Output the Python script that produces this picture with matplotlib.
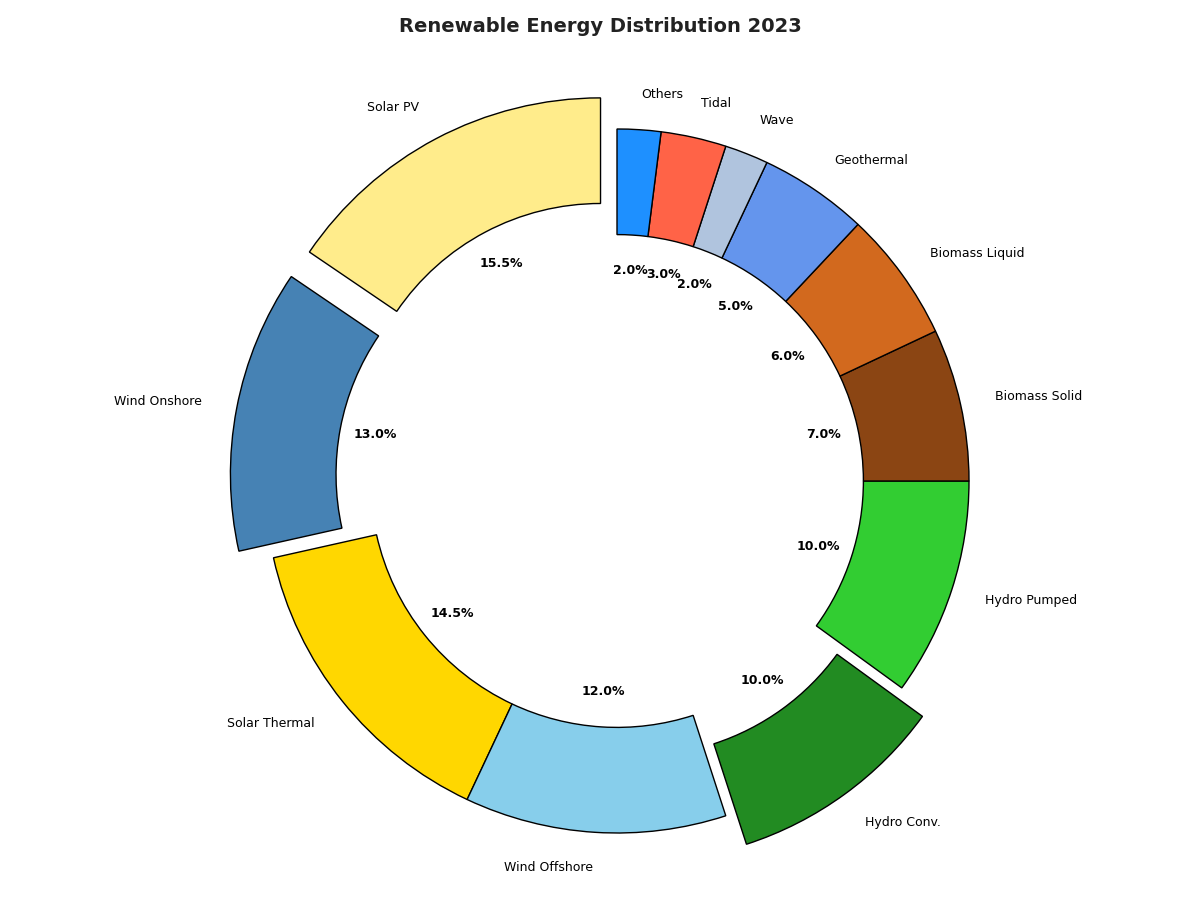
import matplotlib.pyplot as plt

labels = ['Solar PV', 'Wind Onshore', 'Solar Thermal', 'Wind Offshore', 'Hydro Conv.',
          'Hydro Pumped', 'Biomass Solid', 'Biomass Liquid', 'Geothermal', 'Wave',
          'Tidal', 'Others']
shares = [15.5, 13.0, 14.5, 12.0, 10.0, 10.0, 7.0, 6.0, 5.0, 2.0, 3.0, 2.0]
colors = ['#FFEC8B', '#4682B4', '#FFD700', '#87CEEB', '#228B22', '#32CD32',
          '#8B4513', '#D2691E', '#6495ED', '#B0C4DE', '#FF6347', '#1E90FF']
explode = [0.1, 0.1, 0, 0, 0.1, 0, 0, 0, 0, 0, 0, 0]

fig = plt.figure(figsize=(12, 9), dpi=100)
ax = fig.add_axes([0, 0, 1, 1])
wedges, texts, autotexts = ax.pie(
    shares, labels=labels, colors=colors, explode=explode,
    startangle=90, autopct='%1.1f%%', pctdistance=0.6, labeldistance=1.1,
    wedgeprops=dict(width=0.3, edgecolor='black', linewidth=1),
    textprops=dict(fontsize=9))
for t in autotexts:
    t.set_fontweight('bold')
    t.set_color('black')

# one data unit = 352 px, centre at (617, 481) from the top-left
scale = 352
ax.set_aspect('auto')
ax.set_xlim(-617 / scale, 583 / scale)
ax.set_ylim(-419 / scale, 481 / scale)
ax.axis('off')

fig.text(0.5, 1 - 27 / 900, 'Renewable Energy Distribution 2023', fontsize=14,
         fontweight='bold', color='#222222', ha='center', va='center')
plt.savefig('out.png')
